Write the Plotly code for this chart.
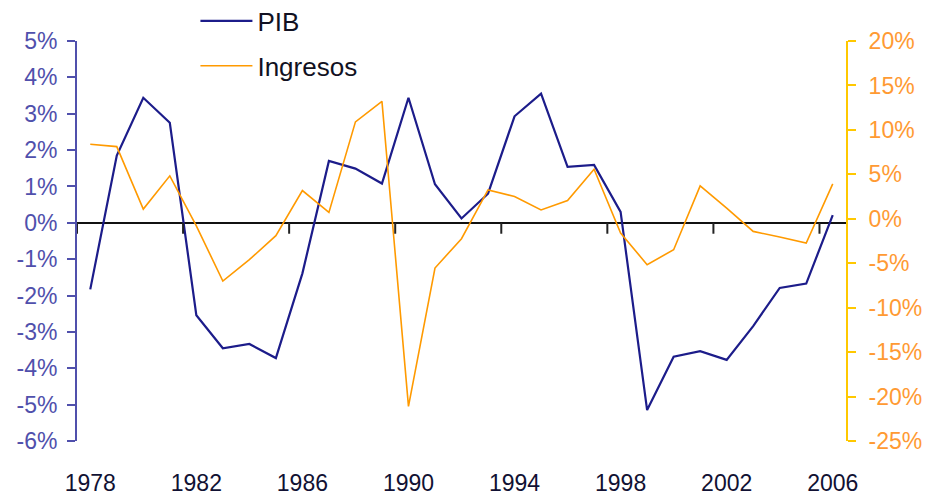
import plotly.graph_objects as go

years = list(range(1978, 2007))
pib = [-1.83, 1.85, 3.44, 2.75, -2.54, -3.45, -3.33, -3.72, -1.39, 1.70,
       1.49, 1.08, 3.44, 1.06, 0.12, 0.80, 2.93, 3.55, 1.54, 1.59,
       0.30, -5.15, -3.68, -3.53, -3.77, -2.84, -1.79, -1.67, 0.21]
ingresos = [8.38, 8.12, 1.09, 4.83, -0.8, -7.0, -4.6, -1.9, 3.18, 0.71,
            10.9, 13.2, -21.1, -5.54, -2.24, 3.25, 2.5, 1.0, 2.06, 5.57,
            -1.61, -5.16, -3.48, 3.7, 1.2, -1.42, -2.06, -2.73, 3.93]
left_ticks = [5, 4, 3, 2, 1, 0, -1, -2, -3, -4, -5, -6]
right_ticks = [20, 15, 10, 5, 0, -5, -10, -15, -20, -25]
label_years = years[::4]

BLUE = "#1C1C8A"
ORANGE = "#FF9A00"
LEFT_COL = "#5050AC"
GOLD = "#FFC800"
RIGHT_TXT = "#FF9A33"
FONT = "Liberation Sans, Arial, sans-serif"

fig = go.Figure()
fig.add_trace(go.Scatter(x=years, y=pib, name="PIB", mode="lines",
                         line=dict(color=BLUE, width=2.2), yaxis="y", legend="legend"))
fig.add_trace(go.Scatter(x=years, y=ingresos, name="Ingresos", mode="lines",
                         line=dict(color=ORANGE, width=1.6), yaxis="y2", legend="legend2"))

# category boundary ticks on the zero line (Excel-style)
for yr in label_years:
    fig.add_shape(type="line", xref="x", yref="y", x0=yr - 0.5, x1=yr - 0.5,
                  y0=0, y1=-0.3, line=dict(color="#222222", width=2))

fig.update_layout(
    width=927, height=496,
    margin=dict(l=77, r=81, t=41, b=55, autoexpand=False),
    paper_bgcolor="white", plot_bgcolor="white",
    font=dict(family=FONT),
    xaxis=dict(range=[1977.5, 2006.5], tickvals=label_years,
               ticktext=[str(y) for y in label_years], automargin=False,
               showgrid=False, zeroline=False, showline=False, ticks="",
               tickfont=dict(size=23, color="#111133"), ticklabelstandoff=26),
    yaxis=dict(range=[-6, 5], tickvals=left_ticks, automargin=False,
               ticktext=[f"{v}%" for v in left_ticks],
               showgrid=False, zeroline=True, zerolinecolor="#111111", zerolinewidth=2,
               showline=True, linecolor=LEFT_COL, linewidth=2,
               ticks="outside", ticklen=8, tickwidth=2, tickcolor=LEFT_COL,
               tickfont=dict(size=23, color=LEFT_COL), ticklabelstandoff=5),
    yaxis2=dict(range=[-25, 20], tickvals=right_ticks, automargin=False,
                ticktext=[f"{v}%" for v in right_ticks],
                overlaying="y", side="right", anchor="x",
                showgrid=False, zeroline=False,
                showline=True, linecolor=GOLD, linewidth=2,
                ticks="outside", ticklen=8, tickwidth=2, tickcolor=GOLD,
                tickfont=dict(size=23, color=RIGHT_TXT), ticklabelstandoff=8),
    yaxis3=dict(range=[-25, 20], tickvals=right_ticks, overlaying="y", side="right",
                anchor="x", showgrid=False, zeroline=False, showline=False,
                ticks="inside", ticklen=8, tickwidth=2, tickcolor=GOLD,
                showticklabels=False, automargin=False),
    legend=dict(x=0.154, y=1.05, xanchor="left", yanchor="middle",
                font=dict(size=26, color="#111122"), itemwidth=52,
                bgcolor="rgba(0,0,0,0)"),
    legend2=dict(x=0.154, y=0.938, xanchor="left", yanchor="middle",
                 font=dict(size=26, color="#111122"), itemwidth=52,
                 bgcolor="rgba(0,0,0,0)"),
    showlegend=True,
)

fig.write_html("out.html", config={"displayModeBar": False})
with open("out.html", encoding="utf-8") as f:
    html = f.read()
html = html.replace("<body>", '<body style="margin:0;padding:0;overflow:hidden">', 1)
with open("out.html", "w", encoding="utf-8") as f:
    f.write(html)
